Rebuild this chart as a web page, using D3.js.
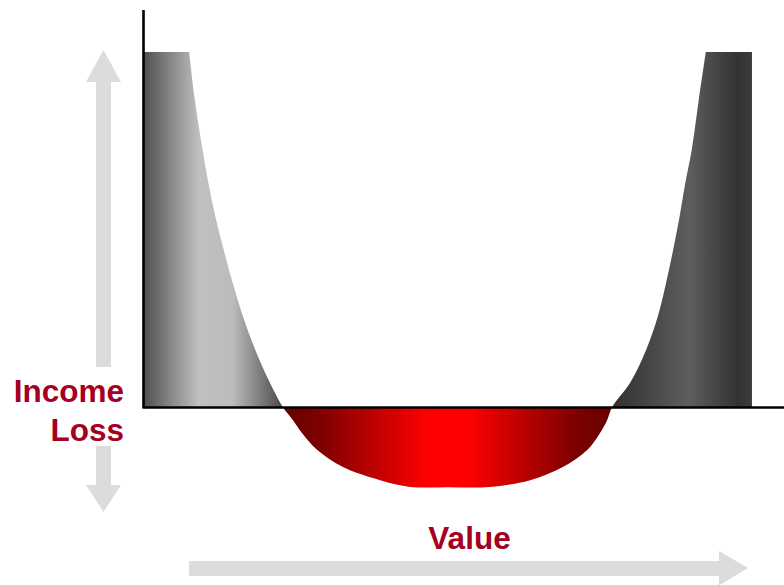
<!DOCTYPE html>
<html>
<head>
<meta charset="utf-8">
<script src="https://cdn.jsdelivr.net/npm/d3@7"></script>
<style>
  body { margin: 0; background: #fff; }
  svg { display: block; }
  text { font-family: "Liberation Sans", Arial, sans-serif; font-weight: bold; }
</style>
</head>
<body>
<svg id="chart" width="784" height="585"></svg>
<script>
// values (value axis 0..100, income loss 0..100 at top of the walls)
const curveValue = [7.2, 8.1, 9.3, 10.2, 11.3, 12.6, 14.0, 15.6, 17.5, 19.8, 21.8,
                    23.4, 24.8, 27.2, 31.2, 37.0, 41.7, 47.6, 54.1, 60.4, 65.5,
                    69.3, 71.3, 72.4, 73.2, 76.0, 78.5, 80.3, 81.6, 82.7, 83.7,
                    84.6, 85.6, 86.7, 87.8];
const curveLoss  = [100, 86.5, 72.4, 63.1, 53.5, 44.2, 34.9, 25.4, 16.1, 6.8, 0,
                    -3.7, -7.3, -12.1, -16.9, -20.6, -22.5, -22.6, -22.5, -20.6, -16.9,
                    -12.1, -7.3, -3.7, 0, 6.8, 16.1, 25.4, 34.9, 44.2, 53.5,
                    63.1, 72.4, 86.5, 100];
const wallLeft = 0, wallRight = 95, wallTop = 100;
const centerValue = 47.5;
const axisTop = 112;

const labels = { y: ["Income", "Loss"], x: "Value" };

const svg = d3.select("#chart");
const X = d3.scaleLinear().domain([0, 100]).range([143, 784]);
const Y = d3.scaleLinear().domain([0, 100]).range([407, 52]);

const defs = svg.append("defs");

let gradient = (id, x1, x2, stops) => {
    let g = defs.append("linearGradient")
        .attr("id", id)
        .attr("gradientUnits", "userSpaceOnUse")
        .attr("x1", x1).attr("x2", x2)
        .attr("y1", 0).attr("y2", 0);
    stops.forEach(s => g.append("stop").attr("offset", s[0]).attr("stop-color", s[1]));
}

// zero crossings of the curve
const zeroIdx = curveLoss.map((v, i) => v === 0 ? i : -1).filter(i => i >= 0);
const xCrossL = curveValue[zeroIdx[0]], xCrossR = curveValue[zeroIdx[1]];

gradient("gLeft", X(wallLeft), X(xCrossL), [
    [0, "#4e4e4e"], [0.4, "#c0c0c0"], [0.64, "#bcbcbc"], [1, "#4a4a4a"]]);
gradient("gRight", X(xCrossR), X(wallRight), [
    [0, "#303030"], [0.55, "#5e5e5e"], [0.9, "#323232"], [1, "#3c3c3c"]]);
gradient("gRed", X(xCrossL), X(xCrossR), [
    [0, "#680000"], [0.12, "#800000"], [0.44, "#ff0000"], [0.56, "#ff0000"],
    [0.88, "#800000"], [1, "#680000"]]);

// clip regions: left above axis, right above axis, below axis
let clip = (id, x0, x1, y0, y1) => {
    defs.append("clipPath").attr("id", id)
        .append("rect")
        .attr("x", x0).attr("y", y0)
        .attr("width", x1 - x0).attr("height", y1 - y0);
}
clip("cLeft", 0, X(centerValue), 0, Y(0));
clip("cRight", X(centerValue), 784, 0, Y(0));
clip("cBelow", 0, 784, Y(0), 585);

// one outline: left wall, curve, right wall, back along the axis
const pts = curveValue.map((v, i) => [v, curveLoss[i]]);
const curveStr = d3.line()
    .x(d => X(d[0]))
    .y(d => Y(d[1]))
    .curve(d3.curveCatmullRom.alpha(0.5))(pts);
const outline = `M${X(wallLeft)},${Y(0)}L${X(wallLeft)},${Y(wallTop)}`
    + curveStr.replace(/^M/, "L")
    + `L${X(wallRight)},${Y(wallTop)}L${X(wallRight)},${Y(0)}Z`;

[["cLeft", "gLeft"], ["cRight", "gRight"], ["cBelow", "gRed"]].forEach(([c, g]) => {
    svg.append("path")
        .attr("d", outline)
        .attr("clip-path", `url(#${c})`)
        .attr("fill", `url(#${g})`);
});

// axes
const Yaxis = Y.copy().domain([Y.invert(408), axisTop]).range([408, Y(axisTop)]);
svg.append("g")
    .attr("transform", `translate(0, ${Y(0)})`)
    .call(d3.axisBottom(X).tickValues([]).tickSizeOuter(0))
    .select(".domain").attr("stroke", "#000").attr("stroke-width", 2.6);
svg.append("g")
    .attr("transform", `translate(${X(0)}, 0)`)
    .call(d3.axisLeft(Yaxis).tickValues([]).tickSizeOuter(0))
    .select(".domain").attr("stroke", "#000").attr("stroke-width", 2.6);

// light gray arrows
const arrowColor = "#dcdcdc";
svg.append("path").attr("fill", arrowColor)
    .attr("d", "M96,367L96,82L86,82L103.5,50L121,82L111,82L111,367Z");
svg.append("path").attr("fill", arrowColor)
    .attr("d", "M96,446L111,446L111,485L121,485L103.5,512L86,485L96,485Z");
svg.append("path").attr("fill", arrowColor)
    .attr("d", "M189,561L719,561L719,551L748,568L719,585.5L719,576L189,576Z");

// labels
const red = "#a50021";
svg.append("text").attr("x", 124).attr("y", 402)
    .attr("text-anchor", "end").attr("font-size", 31.5).attr("fill", red)
    .text(labels.y[0]);
svg.append("text").attr("x", 124).attr("y", 441)
    .attr("text-anchor", "end").attr("font-size", 31.5).attr("fill", red)
    .text(labels.y[1]);
svg.append("text").attr("x", 469.5).attr("y", 549)
    .attr("text-anchor", "middle").attr("font-size", 31.5).attr("fill", red)
    .text(labels.x);
</script>
</body>
</html>
